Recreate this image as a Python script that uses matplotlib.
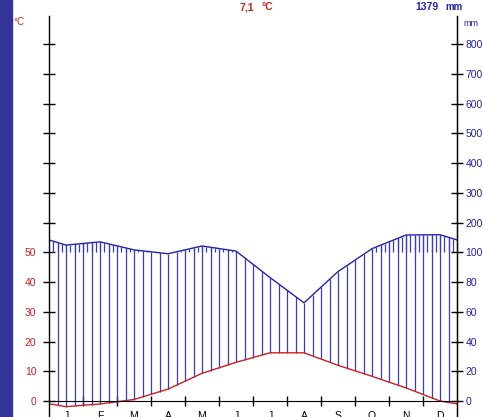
import numpy as np
import matplotlib
matplotlib.use("Agg")
import matplotlib.pyplot as plt
from matplotlib.patches import Rectangle

plt.rcParams['font.family'] = ['Liberation Sans', 'DejaVu Sans']

months = ["J", "F", "M", "A", "M", "J", "J", "A", "S", "O", "N", "D"]
temp = [-1.9, -1.0, 0.5, 4.0, 9.3, 13.0, 16.2, 16.2, 12.0, 8.3, 4.4, 0.0]
precip = [124, 135, 108, 99, 121, 104, 83, 66, 87, 112, 158, 159]
mean_temp = "7,1"
total_precip = "1379"
mm_ticks = [0, 20, 40, 60, 80, 100, 200, 300, 400, 500, 600, 700, 800]

RED = "#cc2020"
BLUE = "#2323a8"
HATCH = "#3b3bbf"


def to_scale(p):
    # walter-lieth: 10 C = 20 mm, above 100 mm compressed 1:10
    p = np.asarray(p, dtype=float)
    return np.where(p <= 100, p / 2.0, 50 + (p - 100) / 10.0)


# month centres plus wrap-around edges (mean of Dec and Jan)
xs = np.concatenate([[0], np.arange(12) + 0.5, [12]])
t_edge = (temp[0] + temp[-1]) / 2
p_edge = (precip[0] + precip[-1]) / 2
t_line = np.concatenate([[t_edge], temp, [t_edge]])
p_line = to_scale(np.concatenate([[p_edge], precip, [p_edge]]))

W, H = 483, 417
px = 2.975  # pixels per degree
fig = plt.figure(figsize=(W / 100, H / 100), dpi=100)
ax = fig.add_axes([49 / W, 0, 408 / W, (417 - 16) / H])
ax.set_xlim(0, 12)
ax.set_ylim(-16 / px, (401 - 16) / px)

# hatching
xl = np.arange(1, 48) * 0.25
ax.vlines(xl, np.interp(xl, xs, t_line), np.interp(xl, xs, p_line), color=HATCH, lw=0.9)
xs_short = np.arange(1, 96) * 0.125
ps = np.interp(xs_short, xs, p_line)
wet = ps > 50
ax.vlines(xs_short[wet], 50, ps[wet], color=HATCH, lw=0.9)

ax.plot(xs, p_line, color=BLUE, lw=1.0)
ax.plot(xs, t_line, color=RED, lw=1.0)

# axes
ax.spines["top"].set_visible(False)
ax.spines["bottom"].set_position(("data", 0))
ax.spines["left"].set_linewidth(1)
ax.spines["right"].set_linewidth(1)
ax.set_xticks(np.arange(1, 12))
ax.set_xticklabels([])
ax.set_xticks(np.arange(12) + 0.5, minor=True)
ax.set_xticklabels(months, minor=True, fontsize=7.5)
ax.tick_params(axis="x", which="major", direction="inout", length=7, width=1)
ax.tick_params(axis="x", which="minor", length=0, pad=7)

yt = np.arange(0, 130, 10)
ax.set_yticks(yt)
ax.set_yticklabels([str(v) if v <= 50 else "" for v in yt], color=RED, fontsize=7.5)
ax.tick_params(axis="y", direction="inout", length=8, width=1, pad=5)

ax2 = ax.twinx()
ax2.set_ylim(ax.get_ylim())
ax2.set_yticks(to_scale(mm_ticks))
ax2.set_yticklabels([str(v) for v in mm_ticks], color=BLUE, fontsize=7.5)
ax2.tick_params(axis="y", direction="inout", length=8, width=1, pad=2)
for s in ["top", "bottom", "left"]:
    ax2.spines[s].set_visible(False)

fig.patches.append(Rectangle((0, 0), 12 / W, 1, transform=fig.transFigure,
                             color="#333399", zorder=0))
fig.text(13 / W, 1 - 22 / H, "°C", color=RED, fontsize=7, va="center", ha="left")
fig.text(463 / W, 1 - 24 / H, "mm", color=BLUE, fontsize=6.5, va="center", ha="left")
fig.text(240 / W, 1 - 7 / H, mean_temp, color=RED, fontsize=7.5, weight="bold", va="center")
fig.text(262 / W, 1 - 7 / H, "°C", color=RED, fontsize=7.5, weight="bold", va="center")
fig.text(415 / W, 1 - 7 / H, total_precip, color=BLUE, fontsize=7.5, weight="bold", va="center")
fig.text(445 / W, 1 - 7 / H, "mm", color=BLUE, fontsize=7, weight="bold", va="center")

fig.savefig("out.png", dpi=100)
